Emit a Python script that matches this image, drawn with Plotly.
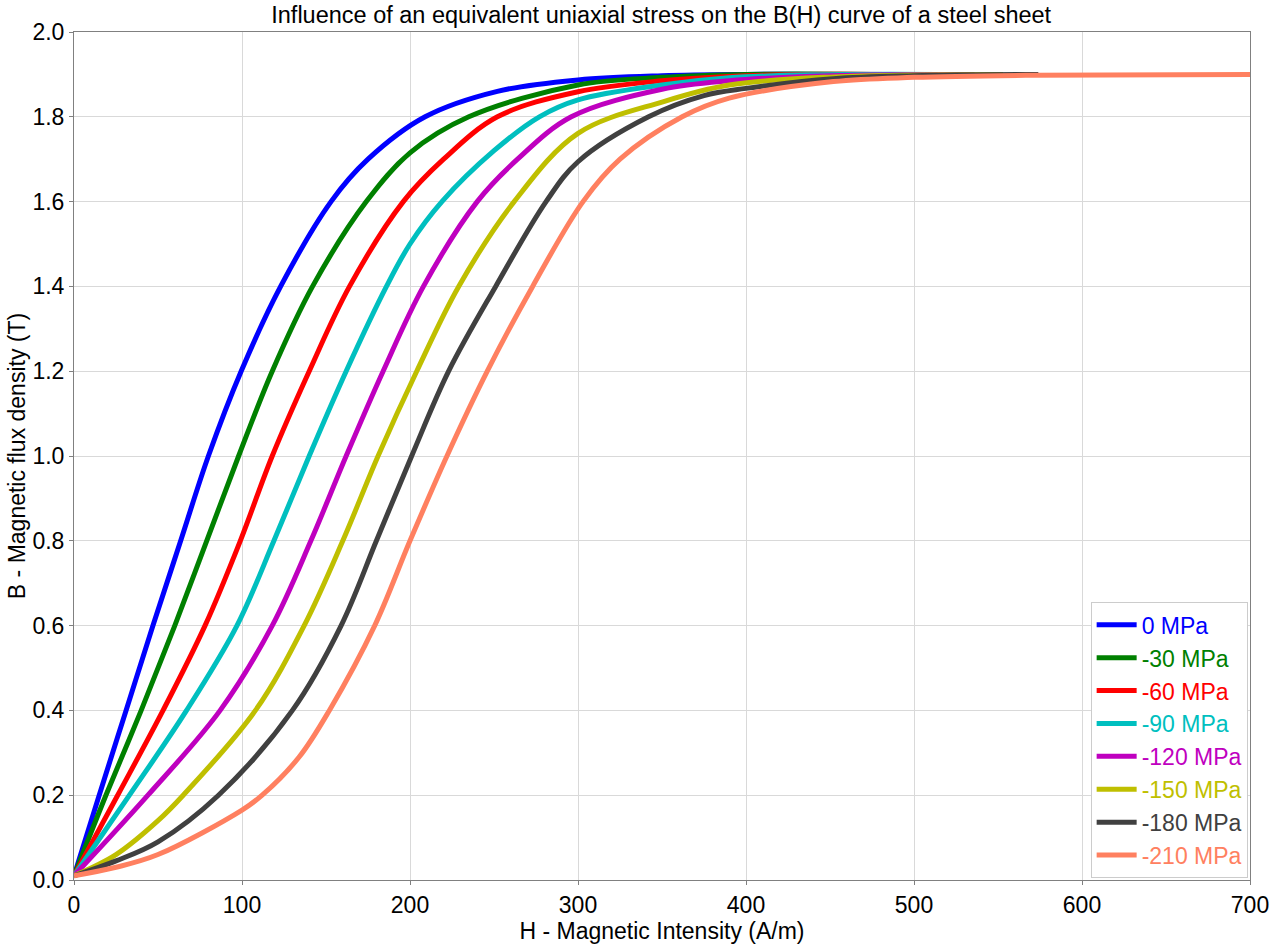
import plotly.graph_objects as go

# ---- data ----
labels = ["0 MPa", "-30 MPa", "-60 MPa", "-90 MPa", "-120 MPa", "-150 MPa", "-180 MPa", "-210 MPa"]
colors = ["#0000FF", "#008000", "#FF0000", "#00BFBF", "#BF00BF", "#BFBF00", "#404040", "#FF8060"]

H_0 = [0, 15, 31, 47, 63.5, 80, 99.5, 123, 153, 175, 209, 252, 300, 350, 400, 455]
B_0 = [0.01, 0.2, 0.4, 0.6, 0.8, 1.0, 1.2, 1.4, 1.6, 1.7, 1.8, 1.86, 1.887, 1.897, 1.9, 1.9]

H_30 = [0, 19, 40, 60, 79, 98, 118, 142, 174, 200, 235, 300, 350, 400, 475]
B_30 = [0.01, 0.2, 0.4, 0.6, 0.8, 1.0, 1.2, 1.4, 1.6, 1.715, 1.8, 1.875, 1.893, 1.9, 1.9]

H_60 = [0, 26, 53, 78, 99, 118, 140, 164, 196, 220, 252, 300, 350, 390, 430, 495]
B_60 = [0.01, 0.2, 0.4, 0.6, 0.8, 1.0, 1.2, 1.4, 1.6, 1.7, 1.8, 1.859, 1.885, 1.895, 1.9, 1.9]

H_90 = [0, 33, 67, 97, 119, 140, 162, 186, 200, 219, 250, 277, 300, 350, 390, 440, 514]
B_90 = [0.01, 0.2, 0.4, 0.6, 0.8, 1.0, 1.2, 1.4, 1.5, 1.6, 1.72, 1.8, 1.84, 1.875, 1.892, 1.899, 1.9]

H_120 = [0, 44, 87, 118, 141, 162, 184, 208, 240, 264, 296, 350, 390, 450, 536]
B_120 = [0.01, 0.2, 0.4, 0.6, 0.8, 1.0, 1.2, 1.4, 1.6, 1.7, 1.8, 1.865, 1.885, 1.897, 1.9]

H_150 = [0, 25, 50, 65, 108, 137, 160, 181, 204, 229, 262, 300, 351, 390, 452, 553]
B_150 = [0.01, 0.06, 0.14, 0.2, 0.4, 0.6, 0.8, 1.0, 1.2, 1.4, 1.6, 1.761, 1.836, 1.875, 1.894, 1.9]

H_180 = [0, 25, 50, 86, 130, 159, 180, 201, 223, 251, 281, 300, 342, 375, 400, 452, 500, 574]
B_180 = [0.01, 0.045, 0.09, 0.2, 0.4, 0.6, 0.8, 1.0, 1.2, 1.4, 1.6, 1.694, 1.8, 1.85, 1.867, 1.89, 1.897, 1.9]

H_210 = [0, 25, 50, 100, 112, 134, 152, 179, 200, 222, 246, 273, 303, 325, 362, 390, 452, 500, 571, 700]
B_210 = [0.01, 0.03, 0.06, 0.165, 0.2, 0.29, 0.4, 0.6, 0.8, 1.0, 1.2, 1.4, 1.6, 1.7, 1.8, 1.844, 1.883, 1.893, 1.898, 1.9]

x_ticks = [0, 100, 200, 300, 400, 500, 600, 700]
y_ticks = [0.0, 0.2, 0.4, 0.6, 0.8, 1.0, 1.2, 1.4, 1.6, 1.8, 2.0]

series_H = [H_0, H_30, H_60, H_90, H_120, H_150, H_180, H_210]
series_B = [B_0, B_30, B_60, B_90, B_120, B_150, B_180, B_210]

FONT = "Arial, 'Liberation Sans', sans-serif"

fig = go.Figure()
for lab, col, hx, by in zip(labels, colors, series_H, series_B):
    fig.add_trace(go.Scatter(
        x=hx, y=by, mode="lines",
        line=dict(color=col, width=5, shape="spline", smoothing=1.0),
        name=f"<span style='color:{col}'>{lab}</span>",
    ))

axis_common = dict(
    showline=True, linecolor="#808080", linewidth=1, mirror=True,
    showgrid=True, gridcolor="#D9D9D9", gridwidth=1,
    ticks="outside", ticklen=4, tickcolor="#808080",
    tickfont=dict(family=FONT, size=23, color="black"),
    zeroline=False, automargin=False,
)

fig.update_layout(
    width=1274, height=944,
    margin=dict(l=74, r=24, t=32, b=64),
    paper_bgcolor="white", plot_bgcolor="white",
    title=dict(text="Influence of an equivalent uniaxial stress on the B(H) curve of a steel sheet",
               x=0.519, xanchor="center", yref="container", y=0.984, yanchor="middle",
               font=dict(family=FONT, size=23.5, color="black")),
    xaxis=dict(range=[0, 700], tickvals=x_ticks,
               title=dict(text="H - Magnetic Intensity (A/m)", standoff=2,
                          font=dict(family=FONT, size=23, color="black")),
               **axis_common),
    yaxis=dict(range=[0, 2.0], tickvals=y_ticks, tickformat=".1f",
               title=dict(text="B - Magnetic flux density (T)", standoff=0,
                          font=dict(family=FONT, size=23, color="black")),
               **axis_common),
    legend=dict(x=0.998, y=0.002, xanchor="right", yanchor="bottom",
                bgcolor="white", bordercolor="#CCCCCC", borderwidth=1,
                font=dict(family=FONT, size=23),
                tracegroupgap=0, itemwidth=40),
    showlegend=True,
)

fig.write_html("out.html", config={"displayModeBar": False},
               post_script="document.body.style.margin='0px';document.body.style.overflow='hidden';")
